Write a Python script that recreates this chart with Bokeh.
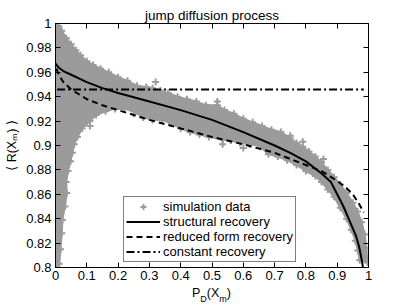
from bokeh.plotting import figure
from bokeh.models import Range1d, FixedTicker, LinearAxis, Legend, LegendItem, Div
from bokeh.layouts import column
from bokeh.embed import file_html
from bokeh.resources import INLINE

# ---------------- data ----------------
title_text = "jump diffusion process"
y_label_text = "\u27e8 R(X\u2098) \u27e9"
x_label_main = "P"
x_label_sub1 = "D"
x_label_mid = "(X"
x_label_sub2 = "m"
x_label_end = ")"
x_ticks = [0, 0.1, 0.2, 0.3, 0.4, 0.5, 0.6, 0.7, 0.8, 0.9, 1]
x_tick_labels = ["0", "0.1", "0.2", "0.3", "0.4", "0.5", "0.6", "0.7", "0.8", "0.9", "1"]
y_ticks = [0.8, 0.82, 0.84, 0.86, 0.88, 0.9, 0.92, 0.94, 0.96, 0.98, 1.0]
y_tick_labels = ["0.8", "0.82", "0.84", "0.86", "0.88", "0.9", "0.92", "0.94", "0.96", "0.98", "1"]

# simulation cloud: upper and lower edge of the band (left -> right)
upper_x = [0.0, 0.01, 0.02, 0.035, 0.05, 0.065, 0.08, 0.1, 0.12, 0.144, 0.17, 0.2, 0.23, 0.26,
           0.29, 0.31, 0.335, 0.36, 0.39, 0.42, 0.45, 0.48, 0.517, 0.54, 0.57, 0.6, 0.63, 0.66,
           0.69, 0.72, 0.75, 0.77, 0.79, 0.81, 0.83, 0.85, 0.87, 0.89, 0.91, 0.93, 0.95, 0.965,
           0.978, 0.988, 0.993, 0.997]
upper_y = [1.0, 0.998, 0.994, 0.988, 0.983, 0.978, 0.974, 0.969, 0.966, 0.963, 0.960, 0.956,
           0.953, 0.949, 0.948, 0.947, 0.945, 0.943, 0.940, 0.938, 0.936, 0.933, 0.933, 0.929,
           0.926, 0.922, 0.919, 0.916, 0.913, 0.911, 0.906, 0.902, 0.899, 0.895, 0.891, 0.886,
           0.880, 0.874, 0.868, 0.861, 0.853, 0.846, 0.837, 0.827, 0.816, 0.804]
lower_x = [0.0, 0.012, 0.016, 0.02, 0.022, 0.03, 0.036, 0.034, 0.04, 0.048, 0.054, 0.06, 0.07,
           0.085, 0.11, 0.13, 0.16, 0.19, 0.22, 0.25, 0.28, 0.31, 0.34, 0.37, 0.4, 0.43, 0.46,
           0.49, 0.534, 0.56, 0.59, 0.62, 0.65, 0.68, 0.71, 0.74, 0.77, 0.8, 0.83, 0.85, 0.87,
           0.89, 0.91, 0.93, 0.945, 0.958, 0.966, 0.972]
lower_y = [0.80, 0.803, 0.815, 0.828, 0.839, 0.850, 0.861, 0.870, 0.879, 0.887, 0.894, 0.901,
           0.907, 0.914, 0.920, 0.925, 0.928, 0.930, 0.930, 0.928, 0.923, 0.921, 0.921, 0.918,
           0.914, 0.911, 0.909, 0.907, 0.905, 0.904, 0.902, 0.901, 0.900, 0.893, 0.891, 0.888,
           0.884, 0.879, 0.875, 0.870, 0.864, 0.858, 0.849, 0.840, 0.831, 0.822, 0.814, 0.806]
outlier_x = [0.11, 0.32, 0.517, 0.534, 0.6, 0.75, 0.79, 0.856, 0.25]
outlier_y = [0.916, 0.952, 0.936, 0.901, 0.898, 0.908, 0.903, 0.889, 0.926]

struct_x = [0.0, 0.01, 0.025, 0.05, 0.1, 0.15, 0.2, 0.3, 0.4, 0.5, 0.6, 0.7, 0.75, 0.8, 0.85,
            0.88, 0.9, 0.92, 0.94, 0.96, 0.97, 0.98, 0.99]
struct_y = [0.967, 0.964, 0.961, 0.958, 0.952, 0.947, 0.943, 0.936, 0.929, 0.921, 0.911, 0.900,
            0.894, 0.887, 0.877, 0.870, 0.860, 0.850, 0.838, 0.826, 0.817, 0.804, 0.785]

reduced_x = [0.003, 0.01, 0.025, 0.05, 0.1, 0.15, 0.2, 0.3, 0.4, 0.5, 0.6, 0.7, 0.75, 0.8, 0.85,
             0.9, 0.93, 0.95, 0.97, 0.985]
reduced_y = [0.963, 0.958, 0.952, 0.946, 0.938, 0.933, 0.929, 0.921, 0.914, 0.907, 0.901, 0.894,
             0.889, 0.884, 0.879, 0.871, 0.865, 0.860, 0.852, 0.845]

const_x = [0.005, 0.985]
const_y = [0.946, 0.946]

# ---------------- layout ----------------
FONT = "Liberation Sans"
W = 407
XLAB_H = 21
PH = 306 - XLAB_H
BL, BR, BT = 55, 39, 23
FW = W - BL - BR
GRAY = "#9b9b9b"

p = figure(width=W, height=PH, x_range=Range1d(0, 1), y_range=Range1d(0.8, 1),
           output_backend="svg", toolbar_location=None,
           x_axis_type=None, y_axis_type=None,
           min_border_left=BL, min_border_right=BR, min_border_top=BT, min_border_bottom=18)
p.outline_line_color = "black"
p.outline_line_width = 1
p.background_fill_color = "white"
p.border_fill_color = "white"
p.title.text = title_text
p.title.align = "center"
p.title.text_font = FONT
p.title.text_font_size = "13.5px"
p.title.text_font_style = "normal"
p.title.text_color = "black"
p.title.standoff = 2


def make_axis(ticks, labels, show):
    ax = LinearAxis(ticker=FixedTicker(ticks=ticks))
    ax.major_label_overrides = {t: (l if show else "") for t, l in zip(ticks, labels)}
    ax.major_tick_in = 5
    ax.major_tick_out = 0
    ax.minor_tick_line_color = None
    ax.axis_line_color = "black"
    ax.major_tick_line_color = "black"
    ax.major_label_text_font = FONT
    ax.major_label_text_font_size = "13px" if show else "1px"
    ax.major_label_text_color = "black"
    return ax


bx = make_axis(x_ticks, x_tick_labels, True)
bx.major_label_standoff = 3
p.add_layout(bx, "below")
ly = make_axis(y_ticks, y_tick_labels, True)
ly.major_label_standoff = 4
ly.axis_label = y_label_text
ly.axis_label_standoff = 4
ly.axis_label_text_font = FONT
ly.axis_label_text_font_size = "12.5px"
ly.axis_label_text_font_style = "normal"
ly.axis_label_text_color = "black"
p.add_layout(ly, "left")
ax_top = make_axis(x_ticks, x_tick_labels, False)
ax_top.major_label_standoff = 0
p.add_layout(ax_top, "above")
ax_r = make_axis(y_ticks, y_tick_labels, False)
ax_r.major_label_standoff = 0
p.add_layout(ax_r, "right")

# band of simulation points
band_x = upper_x + lower_x[::-1]
band_y = upper_y + lower_y[::-1]
p.patch(band_x, band_y, fill_color=GRAY, line_color=GRAY, line_width=2)
sim = p.scatter(upper_x + lower_x + outlier_x, upper_y + lower_y + outlier_y,
                marker="cross", size=7, line_color=GRAY, line_width=2)

r_struct = p.line(struct_x, struct_y, line_color="black", line_width=2)
r_red = p.line(reduced_x, reduced_y, line_color="black", line_width=2, line_dash="6 4")
r_const = p.line(const_x, const_y, line_color="black", line_width=2, line_dash="8 3 2 3")

legend = Legend(items=[
    LegendItem(label="simulation data", renderers=[sim]),
    LegendItem(label="structural recovery", renderers=[r_struct]),
    LegendItem(label="reduced form recovery", renderers=[r_red]),
    LegendItem(label="constant recovery", renderers=[r_const]),
], location=(68, 5))
legend.border_line_color = "black"
legend.border_line_width = 1
legend.background_fill_color = "white"
legend.background_fill_alpha = 1
legend.padding = 2
legend.spacing = 0
legend.margin = 0
legend.label_height = 15
legend.glyph_height = 15
legend.glyph_width = 34
legend.label_standoff = 3
legend.label_text_font = FONT
legend.label_text_font_size = "13px"
legend.label_text_color = "black"
p.add_layout(legend)

base_style = ("font-family:'Liberation Sans',sans-serif;color:black;white-space:nowrap;"
              "margin:0;text-align:center;width:%dpx;margin-left:%dpx;" % (FW, BL))

sub = '<span style="font-size:9px;vertical-align:-4.5px;">%s</span>'
x_label_html = x_label_main + (sub % x_label_sub1) + x_label_mid + (sub % x_label_sub2) + x_label_end
x_div = Div(
    text='<div style="%sfont-size:12.5px;line-height:15px;">%s</div>' % (base_style, x_label_html),
    width=W, height=XLAB_H, margin=0)

layout = column(p, x_div, spacing=0)

open("out.html", "w").write(file_html(layout, INLINE))
